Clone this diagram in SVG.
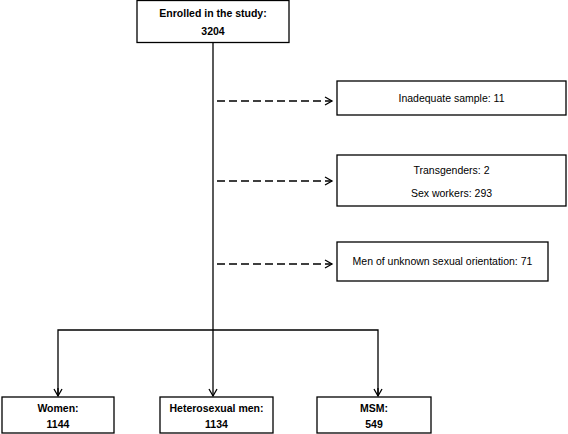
<svg xmlns="http://www.w3.org/2000/svg" width="568" height="434" viewBox="0 0 568 434">
<defs>
<style>
.box{fill:#fff;stroke:#000;stroke-width:1.3}
.t{font-family:"Liberation Sans",Arial,sans-serif;font-size:10.5px;text-anchor:middle;fill:#000}
.b{font-weight:bold}
.ln{fill:none;stroke:#000;stroke-width:1.3}
.dash{stroke-dasharray:8 4}
</style>
<marker id="ah" markerWidth="10" markerHeight="10" refX="8" refY="5" orient="auto" markerUnits="userSpaceOnUse">
<path d="M1,1 L8,5 L1,9" fill="none" stroke="#000" stroke-width="1.3"/>
</marker>
</defs>
<g id="connectors">
<line class="ln" x1="213" y1="43" x2="213" y2="396" marker-end="url(#ah)"/>
<polyline class="ln" points="58,396 58,330 378,330 378,396"/>
<line class="ln" x1="58" y1="388" x2="58" y2="396" marker-end="url(#ah)"/>
<line class="ln" x1="378" y1="388" x2="378" y2="396" marker-end="url(#ah)"/>
<line class="ln dash" x1="217" y1="101" x2="332" y2="101" marker-end="url(#ah)"/>
<line class="ln dash" x1="217" y1="181" x2="332" y2="181" marker-end="url(#ah)"/>
<line class="ln dash" x1="217" y1="264" x2="332" y2="264" marker-end="url(#ah)"/>
</g>
<g id="enrolled">
<rect class="box" x="137" y="0.5" width="152" height="42"/>
<text class="t b" x="213" y="17">Enrolled in the study:</text>
<text class="t b" x="213" y="35">3204</text>
</g>
<g id="inadequate">
<rect class="box" x="337" y="81" width="229" height="34"/>
<text class="t" x="451.5" y="102">Inadequate sample: 11</text>
</g>
<g id="transgenders">
<rect class="box" x="337" y="155" width="229" height="51"/>
<text class="t" x="451.5" y="174">Transgenders: 2</text>
<text class="t" x="451.5" y="197">Sex workers: 293</text>
</g>
<g id="unknown">
<rect class="box" x="337" y="242" width="211" height="39"/>
<text class="t" x="442.5" y="265">Men of unknown sexual orientation: 71</text>
</g>
<g id="women">
<rect class="box" x="2" y="397" width="112" height="36"/>
<text class="t b" x="58" y="412">Women:</text>
<text class="t b" x="58" y="428">1144</text>
</g>
<g id="hetero">
<rect class="box" x="160" y="397" width="113" height="36"/>
<text class="t b" x="216.5" y="412">Heterosexual men:</text>
<text class="t b" x="216.5" y="428">1134</text>
</g>
<g id="msm">
<rect class="box" x="317" y="397" width="114" height="36"/>
<text class="t b" x="374" y="412">MSM:</text>
<text class="t b" x="374" y="428">549</text>
</g>
</svg>
